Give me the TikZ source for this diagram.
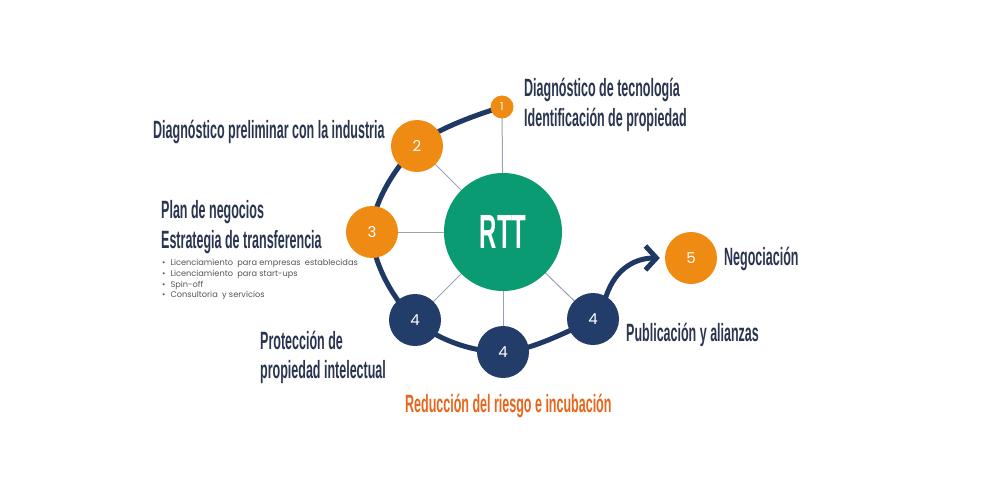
\documentclass[tikz,border=0pt]{standalone}
\usepackage{fontspec}
\setmainfont{Liberation Sans}
\newfontfamily\cond{Liberation Sans}[FakeStretch=0.5]
\newfontfamily\numf{Poppins}
\usetikzlibrary{arrows.meta,backgrounds}
\definecolor{orng}{HTML}{EF8A12}
\definecolor{navy}{HTML}{233D6B}
\definecolor{arcc}{HTML}{1F3864}
\definecolor{grn}{HTML}{0B9B72}
\definecolor{txt}{HTML}{2A3550}
\definecolor{red}{HTML}{E8661C}
\definecolor{spk}{HTML}{9AA3B2}
\definecolor{gtxt}{HTML}{555555}
\tikzset{
  stepo/.style={circle,fill=orng,minimum size=52pt,inner sep=0pt,text=white,font=\numf\fontsize{15}{15}\selectfont},
  stepn/.style={circle,fill=navy,minimum size=52pt,inner sep=0pt,text=white,font=\numf\fontsize{15}{15}\selectfont},
  lbl/.style={anchor=base west,inner sep=0pt,text=txt,font=\cond\bfseries\fontsize{25}{25}\selectfont},
  bul/.style={anchor=base west,inner sep=0pt,text=gtxt,font=\numf\fontsize{8.2}{8.2}\selectfont},
  spoke/.style={draw=spk,line width=1pt},
  arcline/.style={draw=arcc,line width=5pt,line cap=round}
}
\begin{document}
\begin{tikzpicture}[x=1pt,y=-1pt]
\useasboundingbox (0,0) rectangle (1000,500);
% nodes
\node[circle,fill=grn,minimum size=118pt,inner sep=0pt,text=white,font=\cond\bfseries\fontsize{48}{48}\selectfont] (rtt) at (503,232) {RTT};
\node[circle,fill=orng,minimum size=23pt,inner sep=0pt,text=white,font=\numf\fontsize{11}{11}\selectfont] (n1) at (502,107) {1};
\node[stepo] (n2) at (417,146) {2};
\node[stepo] (n3) at (372,232) {3};
\node[stepn] (n4a) at (415,320) {4};
\node[stepn] (n4b) at (503,352) {4};
\node[stepn] (n4c) at (593,319) {4};
\node[stepo] (n5) at (691,258) {5};
\begin{scope}[on background layer]
\fill[white] (0,0) rectangle (1000,500);
\foreach \n in {n1,n2,n3,n4a,n4b,n4c} \draw[spoke] (rtt.center) -- (\n.center);
\draw[arcline] plot[smooth,tension=0.6] coordinates {(n1.center) (n2.center) (n3.center) (n4a.center) (n4b.center) (n4c.center)};
\end{scope}
\draw[arcline,-{Straight Barb[length=11pt,width=24pt,line width=5pt]}] (n4c.60) .. controls +(10,-30) and +(-22,0) .. ([xshift=-5pt]n5.west);
% labels
\node[lbl] (t1) at (524,97) {Diagnóstico de tecnología};
\node[lbl] (t2) at (524,127) {Identificación de propiedad};
\node[lbl] (t3) at (153,138) {Diagnóstico preliminar con la industria};
\node[lbl] (t4) at (161,218) {Plan de negocios};
\node[lbl] (t5) at (161,248) {Estrategia de transferencia};
\node[bul] (b1) at (162,265) {•\hspace{5pt}Licenciamiento\ \ para empresas\ \ establecidas};
\node[bul] (b2) at (162,276) {•\hspace{5pt}Licenciamiento\ \ para start-ups};
\node[bul] (b3) at (162,287) {•\hspace{5pt}Spin-off};
\node[bul] (b4) at (162,297.5) {•\hspace{5pt}Consultoria\ \ y servicios};
\node[lbl] (t6) at (260,349) {Protección de};
\node[lbl] (t7) at (260,378) {propiedad intelectual};
\node[lbl,text=red] (t8) at (405,412) {Reducción del riesgo e incubación};
\node[lbl] (t9) at (626,341) {Publicación y alianzas};
\node[lbl] (t10) at (724,265) {Negociación};
\end{tikzpicture}
\end{document}
